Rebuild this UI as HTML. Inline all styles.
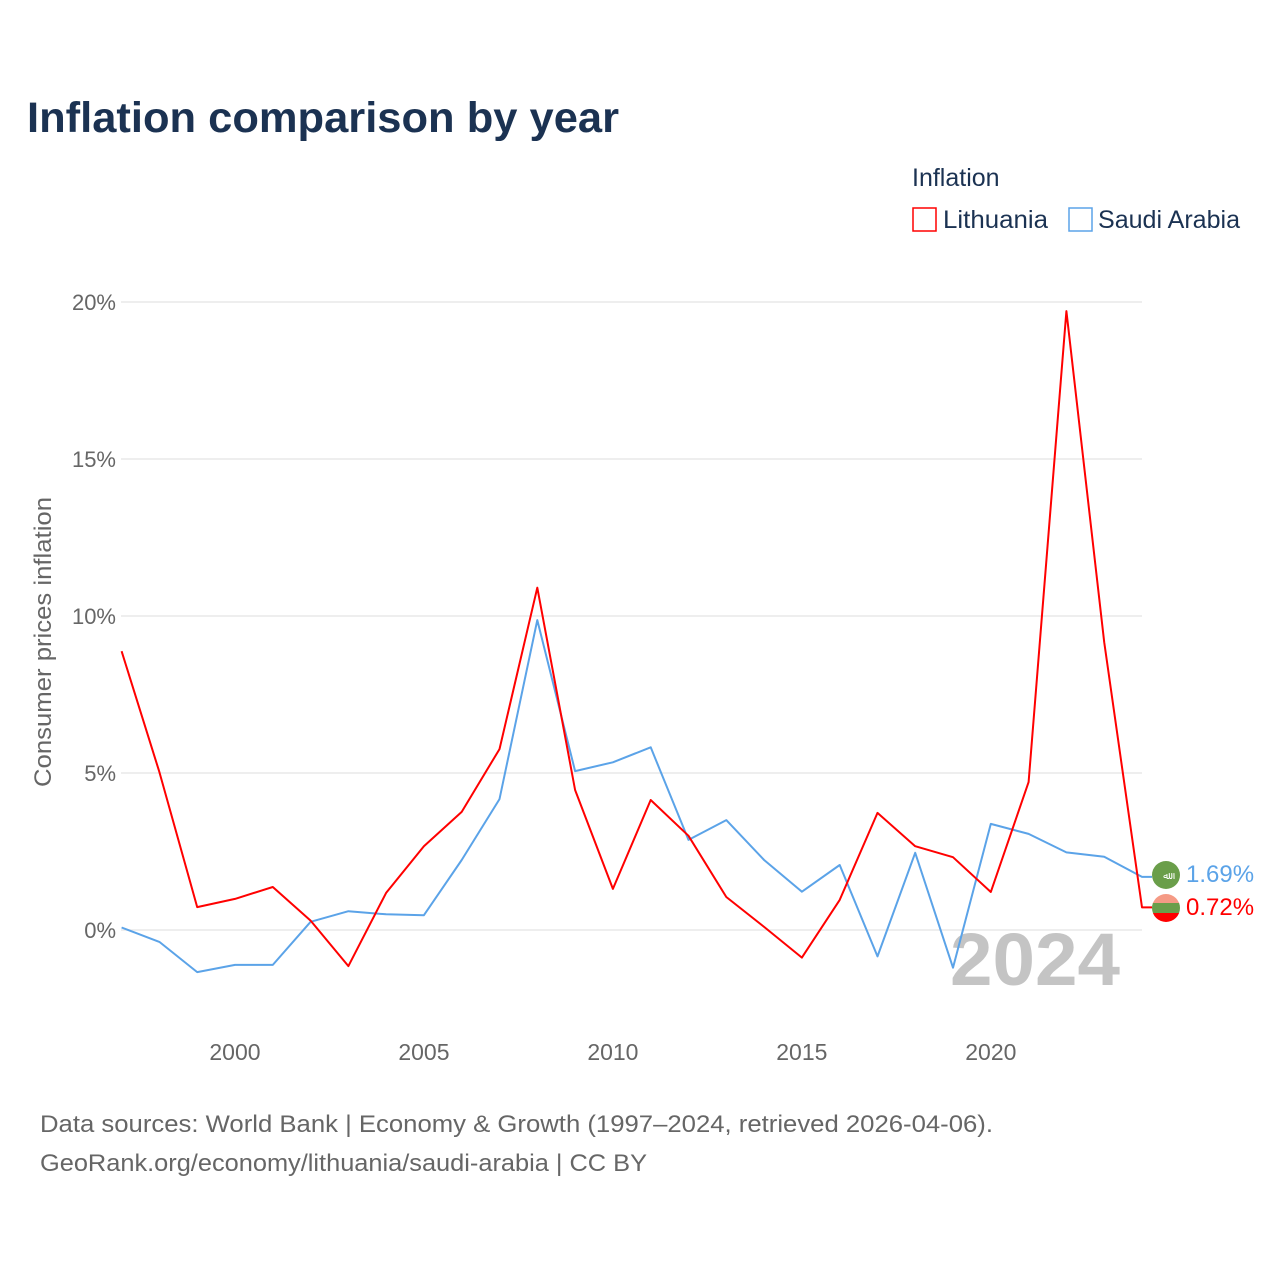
<!DOCTYPE html>
<html><head><meta charset="utf-8">
<style>
body{margin:0;background:#fff;font-family:"Liberation Sans",sans-serif;}
svg text{font-family:"Liberation Sans",sans-serif;}
</style></head>
<body>
<svg id="chart" width="1280" height="1280" xmlns="http://www.w3.org/2000/svg">
<rect width="1280" height="1280" fill="#fff"/>
<text x="27" y="132" font-size="43" font-weight="bold" fill="#1b3252" textLength="592" lengthAdjust="spacingAndGlyphs">Inflation comparison by year</text>
<text x="912" y="186" font-size="25" fill="#1b3252">Inflation</text>
<g>
<rect x="913" y="208" width="23" height="23" fill="none" stroke="#ff0000" stroke-width="1.5"/>
<text x="943" y="228" font-size="25" fill="#1b3252" textLength="105" lengthAdjust="spacingAndGlyphs">Lithuania</text></g>
<g>
<rect x="1069" y="208" width="23" height="23" fill="none" stroke="#5ba3e8" stroke-width="1.5"/>
<text x="1098" y="228" font-size="25" fill="#1b3252" textLength="142" lengthAdjust="spacingAndGlyphs">Saudi Arabia</text></g>
<text transform="translate(51,642) rotate(-90)" text-anchor="middle" font-size="24" fill="#666" textLength="290" lengthAdjust="spacingAndGlyphs">Consumer prices inflation</text>
<g id="grid"></g><g id="yt"></g><g id="xt"></g>
<text x="1120" y="985" text-anchor="end" font-size="74" font-weight="bold" fill="#c4c4c4" textLength="170" lengthAdjust="spacingAndGlyphs">2024</text>
<g id="lines"></g>
<g>
<circle cx="1166" cy="875" r="14" fill="#6a9e4a"/>
<text x="1166" y="879" text-anchor="middle" font-size="10" fill="#fff">ﷲ</text></g>
<g>
<clipPath id="lc"><circle cx="1166" cy="908" r="14"/></clipPath>
<g clip-path="url(#lc)"><rect x="1150" y="894" width="32" height="10" fill="#f59a85"/><rect x="1150" y="903" width="32" height="10" fill="#6a9e4a"/><rect x="1150" y="913" width="32" height="10" fill="#ff0000"/></g></g>
<text x="1186" y="882" font-size="24" fill="#5ba3e8">1.69%</text>
<text x="1186" y="915" font-size="24" fill="#ff0000">0.72%</text>
<text x="40" y="1132" font-size="24" fill="#666" textLength="953" lengthAdjust="spacingAndGlyphs">Data sources: World Bank | Economy &amp; Growth (1997–2024, retrieved 2026-04-06).</text>
<text x="40" y="1171" font-size="24" fill="#666" textLength="607" lengthAdjust="spacingAndGlyphs">GeoRank.org/economy/lithuania/saudi-arabia | CC BY</text>
</svg>
<script>
const years=[1997,1998,1999,2000,2001,2002,2003,2004,2005,2006,2007,2008,2009,2010,2011,2012,2013,2014,2015,2016,2017,2018,2019,2020,2021,2022,2023,2024];
const lithuania=[8.88,5.03,0.73,0.99,1.37,0.3,-1.15,1.18,2.67,3.76,5.76,10.9,4.46,1.31,4.14,3.0,1.05,0.1,-0.88,0.96,3.73,2.67,2.32,1.21,4.71,19.71,9.17,0.72];
const saudi=[0.08,-0.38,-1.34,-1.11,-1.11,0.26,0.6,0.5,0.47,2.23,4.17,9.87,5.06,5.34,5.82,2.87,3.5,2.23,1.22,2.07,-0.84,2.46,-1.2,3.38,3.06,2.47,2.33,1.69];
const yTicks=[0,5,10,15,20];
const yTickLabels=["0%","5%","10%","15%","20%"];
const xTicks=[2000,2005,2010,2015,2020];
const NS="http://www.w3.org/2000/svg";
const x=v=>121.6+(v-1997)*(1142-121.6)/27;
const y=v=>930-v*31.4;
function mk(t,a,p){const e=document.createElementNS(NS,t);for(const k in a)e.setAttribute(k,a[k]);p.appendChild(e);return e;}
const g=document.getElementById('grid'),yt=document.getElementById('yt'),xt=document.getElementById('xt'),L=document.getElementById('lines');
yTicks.forEach((v,i)=>{
 const l=mk('line',{x1:121,x2:1142,y1:y(v),y2:y(v),stroke:'#e8e8e8','stroke-width':1.5},g);
 
 
 const t=mk('text',{x:116,y:y(v)+8,'text-anchor':'end','font-size':22,fill:'#666'},yt);
 t.textContent=yTickLabels[i];
 
 
});
xTicks.forEach(v=>{
 const t=mk('text',{x:x(v),y:1060,'text-anchor':'middle','font-size':23,fill:'#666'},xt);
 t.textContent=v;
 
 
});
function line(data,color,name){
 let d=data.map((v,i)=>(i?'L':'M')+x(years[i]).toFixed(1)+','+y(v).toFixed(1)).join('');
 d+='L1152,'+y(data[data.length-1]).toFixed(1);
 const p=mk('path',{d:d,fill:'none',stroke:color,'stroke-width':2,'stroke-linejoin':'round'},L);
 
 
}
line(saudi,'#5ba3e8','saudi-arabia-line');
line(lithuania,'#ff0000','lithuania-line');
</script>
</body></html>
